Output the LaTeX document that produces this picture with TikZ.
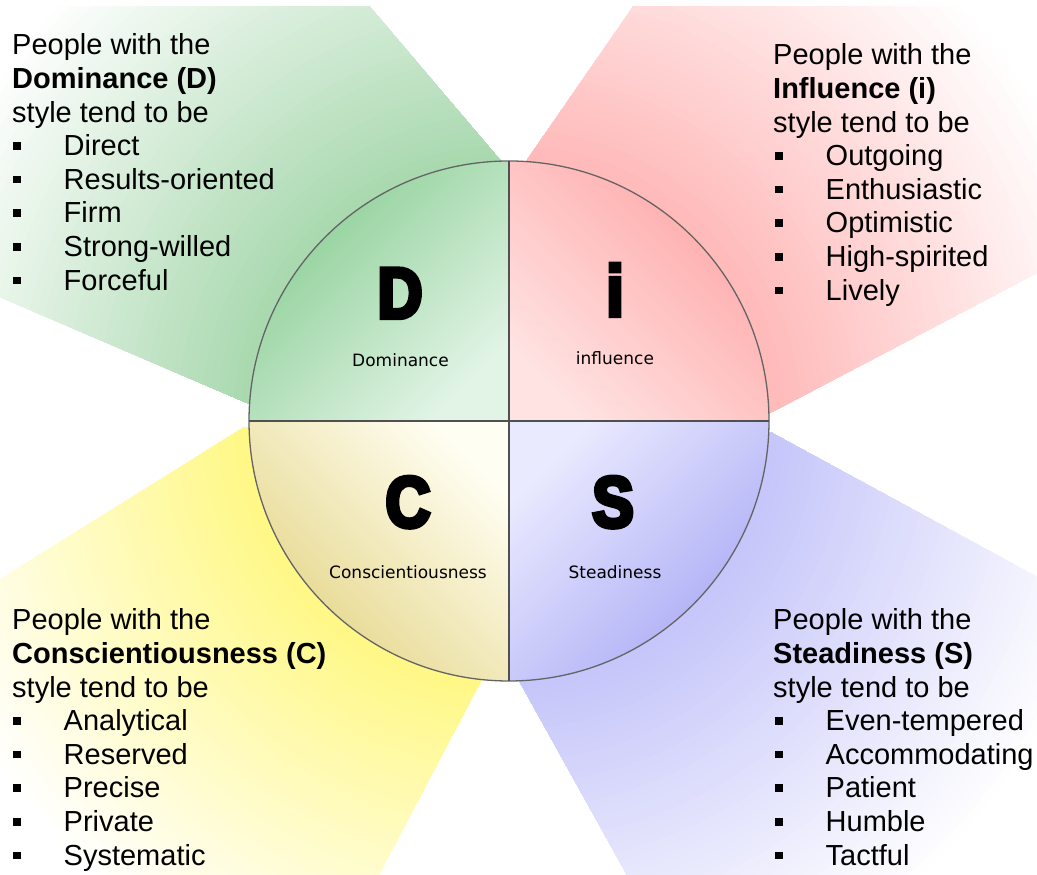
\documentclass[tikz,border=0pt]{standalone}
\usepackage{fontspec}
\setmainfont{Liberation Sans}
\newfontfamily\heavy[FakeBold=6,FakeStretch=0.86]{Liberation Sans Bold}
\newfontfamily\lblfont{DejaVu Sans}
\definecolor{gB}{RGB}{170,217,176}
\definecolor{rB}{RGB}{255,186,186}
\definecolor{yB}{RGB}{255,248,135}
\definecolor{bB}{RGB}{198,198,250}
\definecolor{Dstrong}{RGB}{136,205,146}
\definecolor{Dlight}{RGB}{226,244,230}
\definecolor{Istrong}{RGB}{255,166,166}
\definecolor{Ilight}{RGB}{255,226,226}
\definecolor{Cstrong}{RGB}{228,212,132}
\definecolor{Clight}{RGB}{255,254,242}
\definecolor{Sstrong}{RGB}{168,168,245}
\definecolor{Slight}{RGB}{234,234,255}
\definecolor{rim}{RGB}{100,100,100}
\definecolor{cross}{RGB}{80,80,80}
\newcommand\bsq{\rule[6pt]{7.5pt}{7.5pt}}
\newcommand\bitem[1]{\makebox[50.5pt][l]{\bsq}#1}
\newcommand\beamrings[1]{%
  \foreach \r in {700,692,...,268}{%
    \pgfmathsetmacro\p{max(0,min(100,(620-\r)/3.5))}%
    \fill[#1!\p!white] (c) circle[radius=\r];}}
\begin{document}
\begin{tikzpicture}[x=1pt,y=1pt,
  txt/.style={anchor=base west,inner sep=0pt,font=\fontsize{29}{34}\selectfont},
  bigletter/.style={anchor=base,inner sep=0pt,font=\heavy\fontsize{72}{72}\selectfont},
  qlabel/.style={anchor=base,inner sep=0pt,font=\lblfont\fontsize{17}{20}\selectfont}]
\useasboundingbox (0,0) rectangle (1037,875);
\fill[white] (0,0) rectangle (1037,875);
\coordinate (c) at (509,454);
% light beams
\begin{scope}
  \clip (0,0) rectangle (1037,868);
  \begin{scope}
    \clip (c) -- (500,715) -- (240,1021) -- (-247,684) -- (247,472) -- cycle;
    \beamrings{gB}
  \end{scope}
  \begin{scope}
    \clip (c) -- (527,715) -- (739,1021) -- (1302,741) -- (772,463) -- cycle;
    \beamrings{rB}
  \end{scope}
  \begin{scope}
    \clip (c) -- (243,447) -- (-203,169) -- (283,-182) -- (483,198) -- cycle;
    \beamrings{yB}
  \end{scope}
  \begin{scope}
    \clip (c) -- (772,442) -- (1302,154) -- (737,-198) -- (517,198) -- cycle;
    \beamrings{bB}
  \end{scope}
\end{scope}
% quadrants
\shade[top color=Dstrong,bottom color=Dlight,shading angle=45]
  (c) -- ++(-260,0) arc[start angle=180,end angle=90,radius=260] -- cycle;
\shade[top color=Istrong,bottom color=Ilight,shading angle=-45]
  (c) -- ++(0,260) arc[start angle=90,end angle=0,radius=260] -- cycle;
\shade[top color=Sstrong,bottom color=Slight,shading angle=-135]
  (c) -- ++(260,0) arc[start angle=0,end angle=-90,radius=260] -- cycle;
\shade[top color=Cstrong,bottom color=Clight,shading angle=135]
  (c) -- ++(0,-260) arc[start angle=270,end angle=180,radius=260] -- cycle;
\node[circle,minimum size=520pt,inner sep=0pt,outer sep=0pt,draw=rim,line width=1.3pt] (disc) at (c) {};
\draw[cross,line width=2.4pt] (disc.north) -- (disc.south);
\draw[cross,line width=2.4pt] (disc.west) -- (disc.east);
% quadrant letters and labels
\node[bigletter] (lD) at (400,557) {D};
\node[bigletter] (lI) at (615,559) {i};
\node[bigletter] (lC) at (408,348) {C};
\node[bigletter] (lS) at (613,348) {S};
\node[qlabel] (tD) at (400.5,508) {Dominance};
\node[qlabel] (tI) at (615,510) {influence};
\node[qlabel] (tC) at (408,296) {Conscientiousness};
\node[qlabel] (tS) at (615,296) {Steadiness};
% Dominance block
\node[txt] (d1) at (12,820) {People with the};
\node[txt] (d2) at (12,786.4) {\textbf{Dominance (D)}};
\node[txt] (d3) at (12,752.8) {style tend to be};
\node[txt] (d4) at (13,719.2) {\bitem{Direct}};
\node[txt] (d5) at (13,685.6) {\bitem{Results-oriented}};
\node[txt] (d6) at (13,652) {\bitem{Firm}};
\node[txt] (d7) at (13,618.4) {\bitem{Strong-willed}};
\node[txt] (d8) at (13,584.8) {\bitem{Forceful}};
% Influence block
\node[txt] (i1) at (773,810) {People with the};
\node[txt] (i2) at (773,776.4) {\textbf{Influence (i)}};
\node[txt] (i3) at (773,742.8) {style tend to be};
\node[txt] (i4) at (775,709.2) {\bitem{Outgoing}};
\node[txt] (i5) at (775,675.6) {\bitem{Enthusiastic}};
\node[txt] (i6) at (775,642) {\bitem{Optimistic}};
\node[txt] (i7) at (775,608.4) {\bitem{High-spirited}};
\node[txt] (i8) at (775,574.8) {\bitem{Lively}};
% Conscientiousness block
\node[txt] (c1) at (12,245) {People with the};
\node[txt] (c2) at (12,211.4) {\textbf{Conscientiousness (C)}};
\node[txt] (c3) at (12,177.8) {style tend to be};
\node[txt] (c4) at (13,144.2) {\bitem{Analytical}};
\node[txt] (c5) at (13,110.6) {\bitem{Reserved}};
\node[txt] (c6) at (13,77) {\bitem{Precise}};
\node[txt] (c7) at (13,43.4) {\bitem{Private}};
\node[txt] (c8) at (13,9.8) {\bitem{Systematic}};
% Steadiness block
\node[txt] (s1) at (773,245) {People with the};
\node[txt] (s2) at (773,211.4) {\textbf{Steadiness (S)}};
\node[txt] (s3) at (773,177.8) {style tend to be};
\node[txt] (s4) at (775,144.2) {\bitem{Even-tempered}};
\node[txt] (s5) at (775,110.6) {\bitem{Accommodating}};
\node[txt] (s6) at (775,77) {\bitem{Patient}};
\node[txt] (s7) at (775,43.4) {\bitem{Humble}};
\node[txt] (s8) at (775,9.8) {\bitem{Tactful}};
\end{tikzpicture}
\end{document}
